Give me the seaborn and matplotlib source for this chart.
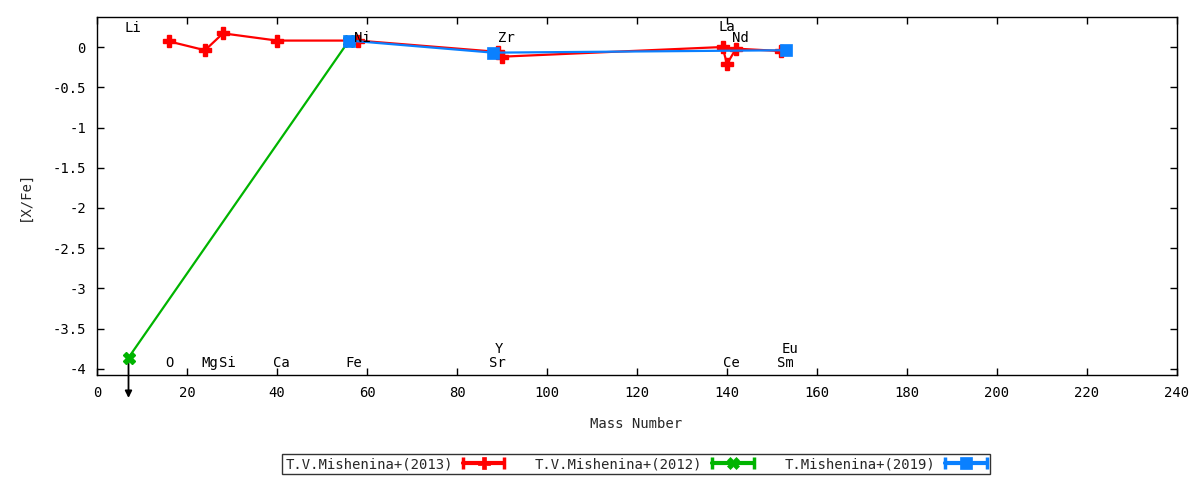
import matplotlib
matplotlib.use("Agg")
import matplotlib.pyplot as plt
from matplotlib.lines import Line2D
from matplotlib.legend_handler import HandlerBase
import seaborn as sns
import pandas as pd

# ---- data ----
mass_2013 = [16, 24, 28, 40, 58, 89, 90, 139, 140, 142, 152]
xfe_2013 = [0.07, -0.04, 0.17, 0.08, 0.08, -0.06, -0.12, 0.00, -0.21, -0.02, -0.05]

mass_2012 = [7, 56]
xfe_2012 = [-3.86, 0.08]

mass_2019 = [56, 88, 153]
xfe_2019 = [0.08, -0.07, -0.04]

series_names = ["T.V.Mishenina+(2013)", "T.V.Mishenina+(2012)", "T.Mishenina+(2019)"]
series_colors = ["#ff0000", "#00b400", "#0a80ff"]
series_markers = ["P", "X", "s"]

elem_names = ["Li", "O", "Mg", "Si", "Ca", "Fe", "Ni", "Y", "Sr", "Zr", "La", "Ce", "Nd", "Eu", "Sm"]
elem_x = [8, 16, 25, 29, 41, 57, 59, 89.3, 88.9, 91, 140, 141, 143, 154, 153]
elem_y = [0.24, -3.93, -3.93, -3.93, -3.93, -3.93, 0.11, -3.75, -3.93, 0.11, 0.25, -3.93, 0.11, -3.75, -3.93]

upper_limit_mass = 7
upper_limit_from = -3.86
upper_limit_to = -4.36

xticks = list(range(0, 241, 20))
yticks = [-4, -3.5, -3, -2.5, -2, -1.5, -1, -0.5, 0]

# ---- style ----
sns.set_style("ticks")
plt.rcParams["font.family"] = ["DejaVu Sans Mono", "DejaVu Sans"]
FS = 10

fig = plt.figure(figsize=(12, 4.8), dpi=100)
ax = fig.add_axes([97 / 1200, 1 - 375 / 480, (1177 - 97) / 1200, (375 - 17) / 480])

frames = [
    pd.DataFrame({"mass": mass_2013, "xfe": xfe_2013}),
    pd.DataFrame({"mass": mass_2012, "xfe": xfe_2012}),
    pd.DataFrame({"mass": mass_2019, "xfe": xfe_2019}),
]
mews = [1.0, 1.0, 0.5]
for df, col, mk, mw in zip(frames, series_colors, series_markers, mews):
    sns.lineplot(data=df, x="mass", y="xfe", ax=ax, color=col, marker=mk,
                 markersize=8, markeredgecolor=col, markeredgewidth=mw,
                 linewidth=1.6, sort=False, legend=False)

ax.annotate("", xy=(upper_limit_mass, upper_limit_to),
            xytext=(upper_limit_mass, upper_limit_from),
            arrowprops=dict(arrowstyle="-|>", color="black", lw=1.3,
                            mutation_scale=10, shrinkA=0, shrinkB=0),
            annotation_clip=False, zorder=1)

for name, x, y in zip(elem_names, elem_x, elem_y):
    ax.text(x, y, name, ha="center", va="center", fontsize=FS, color="black")

ax.set_xlim(0, 240)
ax.set_ylim(-4.075, 0.373)
ax.set_xticks(xticks)
ax.set_yticks(yticks)
ax.set_xticklabels([str(t) for t in xticks])
ax.set_yticklabels([("%g" % t) for t in yticks])
ax.tick_params(direction="in", top=True, right=True, length=5, width=1,
               labelsize=FS, pad=8, colors="black")
for s in ax.spines.values():
    s.set_linewidth(1)
    s.set_color("black")
ax.set_xlabel("Mass Number", fontsize=FS)
ax.set_ylabel("[X/Fe]", fontsize=FS)
ax.xaxis.set_label_coords((636 - 97) / 1080, (375 - 417) / 358)
ax.yaxis.set_label_coords((32 - 97) / 1080, 0.5)


class CapLineHandler(HandlerBase):
    def __init__(self, color, marker, **kw):
        super().__init__(**kw)
        self.color = color
        self.marker = marker

    def create_artists(self, legend, orig_handle, xdescent, ydescent, width, height, fontsize, trans):
        y = height / 2 - ydescent
        x0, x1 = -xdescent, width - xdescent
        line = Line2D([x0, x1], [y, y], color=self.color, lw=3, transform=trans)
        caps = Line2D([x0, x1], [y, y], color=self.color, lw=0, marker="|",
                      markersize=9, markeredgewidth=2.5, transform=trans)
        mid = Line2D([(x0 + x1) / 2], [y], color=self.color, lw=0, marker=self.marker,
                     markersize=8, markeredgecolor=self.color, markeredgewidth=0.5, transform=trans)
        return [line, caps, mid]


handles = [Line2D([], [], color=c) for c in series_colors]
handler_map = {h: CapLineHandler(c, m) for h, c, m in zip(handles, series_colors, series_markers)}
leg = fig.legend(handles, series_names, handler_map=handler_map, ncol=3,
                 loc="center", bbox_to_anchor=(636 / 1200, 1 - 464 / 480),
                 markerfirst=False, frameon=True, fancybox=False, edgecolor="black",
                 handlelength=3.0, columnspacing=2.2, handletextpad=0.7,
                 borderpad=0.25, borderaxespad=0, fontsize=FS)
leg.get_frame().set_linewidth(1)

fig.savefig("out.png", dpi=100)
